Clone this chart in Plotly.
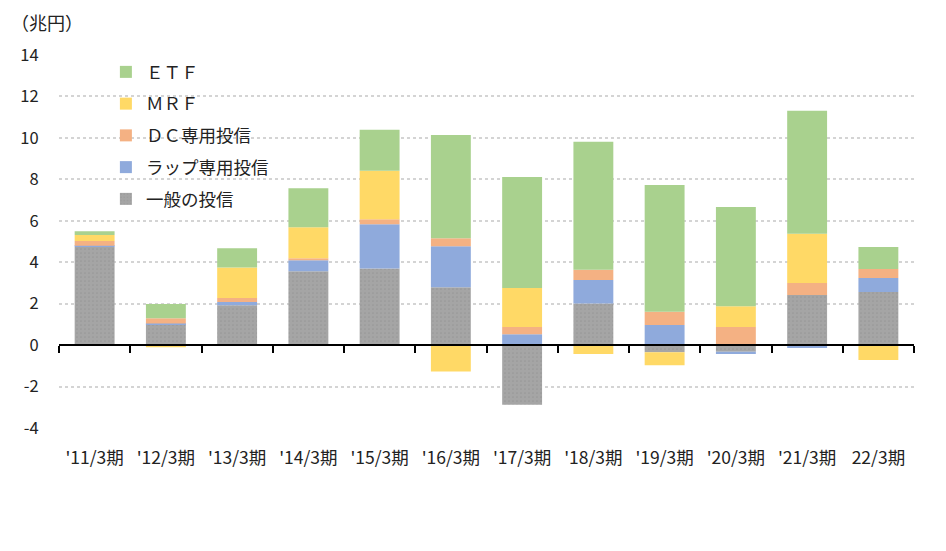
import plotly.graph_objects as go

categories = ["'11/3期", "'12/3期", "'13/3期", "'14/3期", "'15/3期", "'16/3期",
              "'17/3期", "'18/3期", "'19/3期", "'20/3期", "'21/3期", "22/3期"]

general = [4.75, 1.01, 1.92, 3.56, 3.70, 2.79, -2.88, 2.01, -0.34, -0.32, 2.42, 2.56]
wrap = [0.04, 0.03, 0.16, 0.53, 2.13, 1.98, 0.53, 1.13, 0.97, -0.11, -0.14, 0.68]
dc = [0.23, 0.26, 0.19, 0.10, 0.24, 0.39, 0.34, 0.50, 0.64, 0.87, 0.58, 0.43]
mrf = [0.29, -0.10, 1.48, 1.50, 2.34, -1.27, 1.88, -0.43, -0.63, 1.01, 2.37, -0.72]
etf = [0.19, 0.68, 0.92, 1.88, 1.98, 4.98, 5.36, 6.17, 6.12, 4.78, 5.94, 1.06]

y_ticks = [-4, -2, 0, 2, 4, 6, 8, 10, 12, 14]

FONT = "Noto Sans CJK JP, Noto Sans, sans-serif"

series = [
    ("一般の投信", general, "#a5a5a5"),
    ("ラップ専用投信", wrap, "#8faadc"),
    ("ＤＣ専用投信", dc, "#f4b183"),
    ("ＭＲＦ", mrf, "#ffd966"),
    ("ＥＴＦ", etf, "#a9d18e"),
]

fig = go.Figure()
n = len(series)
for i, (name, vals, col) in enumerate(series):
    marker = dict(color=col, line=dict(width=0))
    if i == 0:
        marker["pattern"] = dict(shape=".", fgcolor="#8c8c8c", bgcolor=col,
                                 size=4, solidity=0.15)
    fig.add_trace(go.Bar(x=categories, y=vals, name=name, marker=marker,
                         legendgroup=name, legendrank=n - i))

# helper axis for the zero line ticks
fig.add_trace(go.Scatter(x=categories, y=[None] * len(categories), xaxis="x2",
                         showlegend=False, hoverinfo="skip", mode="markers"))

# page body adds an 8px offset
OFF = 8
W, H = 946 - OFF, 551 - OFF
ml, mr, mt, mb = 57 - OFF, 32, 55 - OFF, 123
pw = W - ml - mr
ph = H - mt - mb
ymin, ymax = -4, 14
zero_pos = (0 - ymin) / (ymax - ymin)

fig.update_layout(
    width=W, height=H,
    margin=dict(l=ml, r=mr, t=mt, b=mb),
    barmode="relative",
    bargap=0.44,
    plot_bgcolor="white",
    paper_bgcolor="white",
    font=dict(family=FONT, size=16, color="#222222"),
    legend=dict(
        x=(104 - OFF - ml) / pw, y=1 - (54 - OFF - mt) / ph,
        xanchor="left", yanchor="top",
        traceorder="grouped",
        tracegroupgap=6,
        itemwidth=30,
        bgcolor="rgba(0,0,0,0)",
        font=dict(family=FONT, size=17.5, color="#222222"),
    ),
    xaxis=dict(
        type="category",
        categoryarray=categories,
        range=[-0.5, 11.5],
        showline=False,
        showgrid=False,
        ticks="outside", ticklen=14, tickcolor="rgba(0,0,0,0)",
        tickfont=dict(family=FONT, size=17.5, color="#222222"),
        zeroline=False,
    ),
    xaxis2=dict(
        type="category",
        categoryarray=categories,
        range=[-0.5, 11.5],
        overlaying="x",
        anchor="free",
        position=zero_pos,
        side="bottom",
        showline=True, linecolor="black", linewidth=2,
        ticks="outside", tickson="boundaries", ticklen=7, tickwidth=2,
        tickcolor="black",
        showticklabels=False,
        showgrid=False,
        zeroline=False,
    ),
    yaxis=dict(
        range=[ymin, ymax],
        tickvals=y_ticks,
        ticktext=[str(v) for v in y_ticks],
        showgrid=True,
        gridcolor="#d4d4d4", gridwidth=1.5, griddash="dot",
        zeroline=False,
        showline=False,
        ticks="outside", ticklen=16, tickcolor="rgba(0,0,0,0)",
        tickfont=dict(family=FONT, size=16.5, color="#222222"),
    ),
    annotations=[dict(
        text="（兆円）", xref="paper", yref="paper",
        x=-ml / pw, y=1 + mt / ph,
        xanchor="left", yanchor="top", showarrow=False, borderpad=0,
        font=dict(family=FONT, size=18, color="#222222"),
    )],
)

fig.write_html("out.html")
